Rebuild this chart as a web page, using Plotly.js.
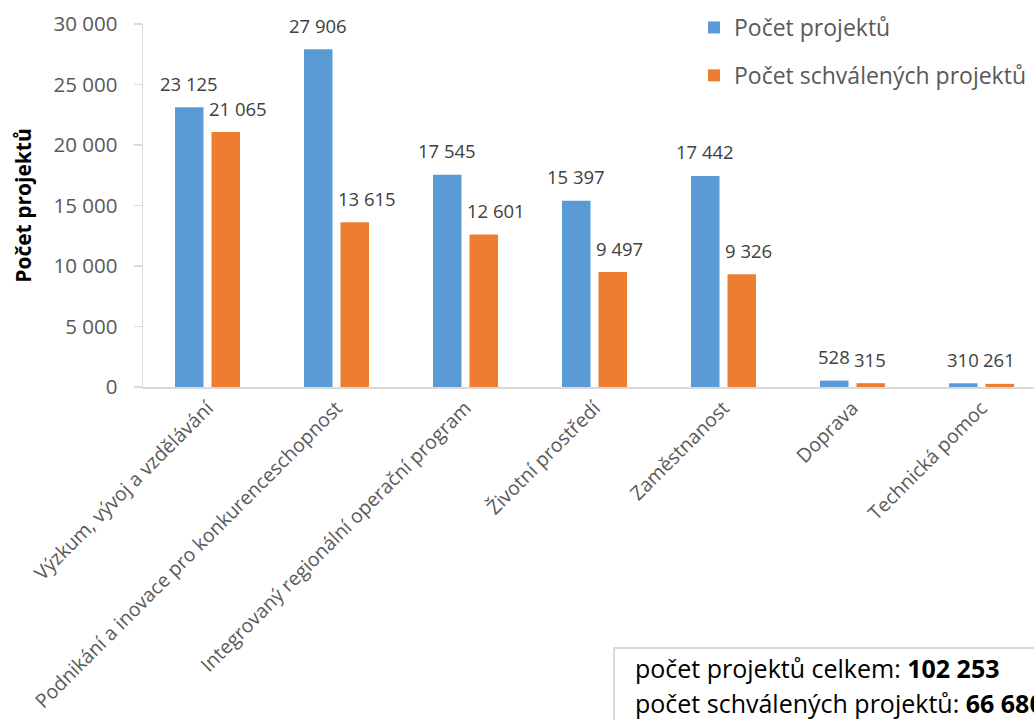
<!DOCTYPE html>
<html>
<head>
<meta charset="utf-8">
<script src="https://cdn.plot.ly/plotly-3.0.1.min.js"></script>
<style>
html,body{margin:0;padding:0;overflow:hidden;background:#fff;}
#chart{width:1100px;height:720px;}
</style>
</head>
<body>
<div id="chart"></div>
<script>
// ---- data ----
var categories = [
  "Výzkum, vývoj a vzdělávání",
  "Podnikání a inovace pro konkurenceschopnost",
  "Integrovaný regionální operační program",
  "Životní prostředí",
  "Zaměstnanost",
  "Doprava",
  "Technická pomoc"
];
var pocetProjektu = [23125, 27906, 17545, 15397, 17442, 528, 310];
var pocetSchvalenych = [21065, 13615, 12601, 9497, 9326, 315, 261];
var seriesNames = ["Počet projektů", "Počet schválených projektů"];
var yTitle = "Počet projektů";
var boxLabel1 = "počet projektů celkem: ";
var boxLabel2 = "počet schválených projektů: ";

// ---- helpers ----
function fmt(v){ return String(v).replace(/\B(?=(\d{3})+(?!\d))/g, " "); }
function sum(a){ return a.reduce(function(s,v){return s+v;},0); }

var W = 1100, H = 720;
var mL = 143, mR = 54, mT = 24, mB = 333;
var plotW = W - mL - mR, plotH = H - mT - mB;
function px2x(px){ return (px - mL) / plotW; }
function py2y(py){ return (H - mB - py) / plotH; }

var font = "'Open Sans', 'DejaVu Sans', sans-serif";
var blue = "#5B9BD5", orange = "#ED7D31";

var traces = [
  {type:"bar", name:seriesNames[0], x:categories, y:pocetProjektu,
   marker:{color:blue}, legendgroup:"a", hoverinfo:"none"},
  {type:"bar", name:seriesNames[1], x:categories, y:pocetSchvalenych,
   marker:{color:orange}, legendgroup:"b", hoverinfo:"none"}
];

var annotations = [];
for (var i = 0; i < categories.length; i++) {
  annotations.push({x:categories[i], y:pocetProjektu[i], xref:"x", yref:"y",
    text:fmt(pocetProjektu[i]), showarrow:false, xanchor:"center", yanchor:"middle",
    xshift:-18.25, yshift:24, font:{family:font, size:18.5, color:"#404040"}});
  annotations.push({x:categories[i], y:pocetSchvalenych[i], xref:"x", yref:"y",
    text:fmt(pocetSchvalenych[i]), showarrow:false, xanchor:"left", yanchor:"middle",
    xshift:-1, yshift:24, font:{family:font, size:18.5, color:"#404040"}});
}
annotations.push({xref:"paper", yref:"paper", x:px2x(633), y:py2y(668),
  xanchor:"left", yanchor:"middle", showarrow:false, align:"left",
  text:boxLabel1 + "<b>" + fmt(sum(pocetProjektu)) + "</b>",
  font:{family:font, size:25, color:"#000"}});
annotations.push({xref:"paper", yref:"paper", x:px2x(633), y:py2y(703),
  xanchor:"left", yanchor:"middle", showarrow:false, align:"left",
  text:boxLabel2 + "<b>" + fmt(sum(pocetSchvalenych)) + "</b>",
  font:{family:font, size:25, color:"#000"}});

var layout = {
  width:W, height:H,
  margin:{l:mL, r:mR, t:mT, b:mB, pad:0, autoexpand:false},
  paper_bgcolor:"#fff", plot_bgcolor:"#fff",
  separators:", ",
  barmode:"group", bargap:0.434, bargroupgap:0.219,
  showlegend:true,
  legend:{x:px2x(694), y:py2y(6), xanchor:"left", yanchor:"top",
    xref:"paper", yref:"paper", tracegroupgap:15, traceorder:"grouped",
    font:{family:font, size:23, color:"#595959"}, bgcolor:"rgba(0,0,0,0)"},
  xaxis:{type:"category", showline:true, linecolor:"#D9D9D9", linewidth:2,
    ticks:"", showgrid:false, zeroline:false, tickangle:-45,
    tickfont:{family:font, size:19.5, color:"#595959"}, automargin:false},
  yaxis:{range:[0,30000], dtick:5000, tickformat:",", showline:true,
    linecolor:"#D9D9D9", linewidth:1.5, ticks:"outside", ticklen:8,
    tickcolor:"#D9D9D9", tickwidth:1.5, showgrid:false, zeroline:false,
    ticklabelstandoff:12,
    tickfont:{family:font, size:20.5, color:"#595959"}, automargin:false,
    title:{text:yTitle, standoff:16, font:{family:font, size:21, color:"#000", weight:"bold"}}},
  annotations:annotations,
  shapes:[{type:"rect", xref:"paper", yref:"paper",
    x0:px2x(614), x1:px2x(1090), y0:py2y(648), y1:py2y(740),
    line:{color:"#D9D9D9", width:2}, fillcolor:"rgba(0,0,0,0)"}]
};

Plotly.newPlot("chart", traces, layout, {displayModeBar:false, staticPlot:true});
</script>
</body>
</html>
